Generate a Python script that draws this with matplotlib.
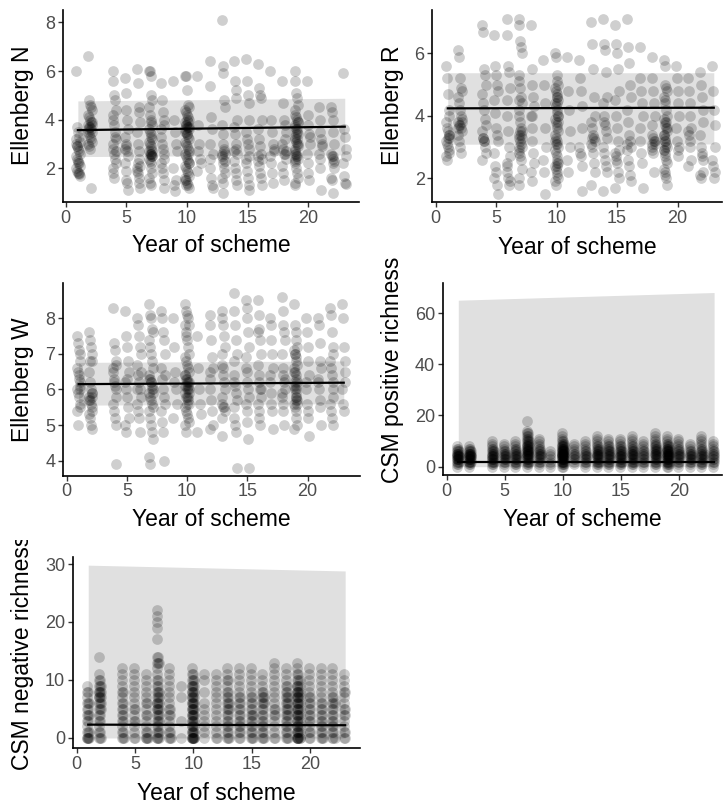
import matplotlib
matplotlib.use("Agg")
import matplotlib.pyplot as plt
from matplotlib.transforms import Bbox
import numpy as np

plt.rcParams["font.family"] = ["Liberation Sans", "DejaVu Sans"]

# survey years present in the scheme (no plots in year 3)
years = [1, 2, 4, 5, 6, 7, 8, 9, 10, 11, 12, 13, 14, 15, 16, 17, 18, 19, 20, 21, 22, 23]

# plot-level Ellenberg N means, one list per year
ell_n = [
    [6.0, 3.7, 3.5, 3.3, 3.1, 3.0, 2.9, 2.8, 2.7, 2.6, 2.5, 2.4, 2.3, 2.2, 2.1, 2.0, 1.9, 1.8, 1.75, 1.7, 3.2, 2.9, 2.2, 1.8],
    [6.6, 4.8, 4.6, 4.5, 4.4, 4.2, 4.1, 4.0, 3.9, 3.8, 3.8, 3.7, 3.7, 3.6, 3.5, 3.5, 3.4, 3.3, 3.2, 3.1, 3.0, 2.9, 2.8, 1.2, 3.9, 3.6],
    [6.0, 5.6, 5.0, 4.8, 4.4, 4.2, 4.0, 3.8, 3.5, 3.2, 3.0, 2.8, 2.6, 2.4, 2.2, 2.0, 1.8, 1.6, 3.3, 2.7],
    [5.7, 5.1, 4.4, 4.0, 3.6, 3.3, 3.0, 2.9, 2.7, 2.5, 2.2, 1.9, 1.5, 1.4, 1.1, 2.8],
    [6.1, 5.5, 4.5, 4.3, 3.9, 3.5, 3.0, 2.7, 2.4, 2.1, 2.0, 1.8, 1.6, 1.4, 1.2, 1.9, 2.2],
    [6.0, 6.0, 5.8, 5.0, 4.8, 4.5, 4.2, 4.0, 3.9, 3.8, 3.6, 3.5, 3.4, 3.3, 3.2, 3.1, 3.0, 2.9, 2.8, 2.7, 2.7, 2.6, 2.6, 2.5, 2.5, 2.4, 2.3, 2.2, 2.0, 1.8, 1.6, 1.4, 1.3, 2.6, 2.5],
    [5.5, 4.8, 4.3, 4.0, 3.8, 3.6, 3.0, 2.8, 2.6, 2.4, 2.2, 2.0, 1.8, 1.5, 1.2, 3.3],
    [5.6, 4.0, 3.5, 3.0, 2.7, 2.0, 1.3, 1.05, 1.5],
    [5.8, 5.8, 5.2, 4.6, 4.5, 4.4, 4.3, 4.2, 4.1, 4.0, 3.9, 3.8, 3.7, 3.7, 3.6, 3.5, 3.5, 3.4, 3.3, 3.2, 3.1, 3.0, 2.9, 2.8, 2.7, 2.6, 2.5, 2.4, 2.3, 2.2, 2.1, 2.0, 1.9, 1.8, 1.7, 1.6, 1.5, 1.4, 1.3, 1.2, 3.6, 3.8, 3.4, 2.6, 2.2, 1.5, 1.3, 4.0, 3.9, 3.7],
    [5.8, 3.8, 3.0, 2.4, 2.2, 1.9, 2.7],
    [6.4, 5.4, 4.1, 3.6, 2.6, 2.4, 2.0, 1.6, 1.3, 1.2, 3.0],
    [8.1, 6.2, 5.9, 4.8, 4.5, 3.8, 3.4, 3.0, 2.8, 2.6, 2.5, 2.4, 2.2, 2.0, 1.8, 1.6, 1.4, 1.0, 2.7, 2.3, 2.6],
    [6.4, 5.6, 5.2, 4.9, 4.0, 3.7, 3.4, 3.0, 2.8, 2.6, 2.3, 2.0, 1.8, 1.5, 1.3, 2.7],
    [6.5, 5.6, 5.0, 4.7, 4.0, 3.5, 3.2, 3.0, 2.8, 2.5, 2.2, 1.9, 1.6, 1.1, 1.3, 2.4],
    [6.3, 5.3, 5.0, 4.9, 4.0, 3.6, 3.2, 2.9, 2.6, 2.4, 2.3, 2.1, 1.8, 1.6, 1.3, 2.5],
    [6.0, 4.0, 3.5, 3.0, 2.7, 2.5, 2.2, 1.8, 1.4, 2.8],
    [5.6, 4.7, 4.0, 3.8, 3.5, 3.0, 2.8, 2.6, 2.6, 2.4, 2.1, 1.8, 1.5, 3.2, 2.7],
    [6.0, 5.6, 5.1, 4.9, 4.6, 4.4, 4.2, 4.1, 4.0, 3.9, 3.8, 3.7, 3.6, 3.5, 3.4, 3.3, 3.2, 3.1, 3.0, 2.9, 2.8, 2.7, 2.6, 2.5, 2.4, 2.3, 2.2, 2.0, 1.8, 1.6, 1.4, 1.3, 3.4, 3.2, 3.0, 2.6, 2.4, 2.5, 3.6, 3.9],
    [5.6, 4.2, 3.8, 3.4, 3.0, 2.6, 2.2, 1.8, 1.5, 3.3],
    [4.5, 4.0, 3.5, 3.2, 2.9, 2.6, 2.4, 2.0, 1.1, 3.0],
    [4.5, 4.3, 4.0, 3.5, 3.0, 2.6, 2.5, 2.4, 2.2, 2.0, 1.6, 1.5, 1.0, 2.5, 2.3],
    [5.9, 3.6, 3.3, 2.8, 2.5, 2.2, 1.7, 1.4, 1.35],
]

# plot-level Ellenberg R means
ell_r = [
    [5.6, 5.2, 4.7, 4.2, 4.0, 3.8, 3.6, 3.5, 3.4, 3.3, 3.2, 3.1, 3.0, 2.9, 2.8, 2.7, 2.6, 3.3, 3.4],
    [6.1, 5.9, 5.2, 4.9, 4.8, 4.6, 4.4, 4.2, 4.0, 3.9, 3.8, 3.7, 3.7, 3.6, 3.5, 3.4, 3.2, 3.0, 2.8, 3.8, 3.6],
    [6.9, 6.7, 5.5, 5.3, 5.0, 4.7, 4.4, 4.2, 3.9, 3.7, 3.5, 3.3, 3.2, 3.0, 2.8, 2.6, 3.3, 3.2],
    [6.6, 5.6, 5.3, 5.0, 4.8, 4.5, 4.1, 3.6, 3.4, 3.2, 2.8, 2.4, 2.2, 1.8, 1.5, 2.0],
    [7.1, 6.6, 5.6, 5.4, 4.9, 4.5, 4.0, 3.5, 3.0, 2.7, 2.4, 2.2, 2.0, 1.8, 1.9, 2.5],
    [7.1, 6.9, 6.4, 6.2, 6.0, 5.3, 5.1, 4.9, 4.6, 4.4, 4.2, 4.0, 3.8, 3.6, 3.5, 3.4, 3.3, 3.2, 3.1, 3.0, 2.9, 2.8, 2.7, 2.6, 2.3, 2.0, 1.8, 3.5, 3.4, 3.3, 4.5, 3.0],
    [6.9, 5.5, 5.0, 4.6, 4.3, 4.0, 3.6, 3.2, 2.8, 2.5, 2.2, 1.9, 4.0],
    [5.8, 5.0, 4.4, 3.6, 3.0, 2.6, 2.2, 1.5],
    [6.0, 5.9, 5.3, 5.1, 5.0, 4.9, 4.8, 4.7, 4.6, 4.5, 4.4, 4.3, 4.2, 4.1, 4.0, 3.9, 3.8, 3.7, 3.6, 3.5, 3.4, 3.3, 3.2, 3.1, 3.0, 2.9, 2.8, 2.7, 2.6, 2.5, 2.4, 2.3, 2.2, 2.1, 2.0, 1.9, 1.8, 4.6, 4.4, 3.8, 3.2, 3.1, 2.5, 2.4, 4.0],
    [5.9, 4.8, 4.2, 3.5, 3.0, 2.6, 2.2],
    [5.8, 5.2, 4.8, 4.3, 3.6, 3.0, 2.8, 2.7, 2.4, 1.6],
    [7.0, 6.3, 5.5, 4.6, 4.0, 3.8, 3.6, 3.4, 3.3, 3.2, 3.1, 3.0, 2.8, 2.5, 2.2, 1.8, 3.3],
    [7.1, 6.3, 6.1, 5.4, 4.6, 4.4, 4.0, 3.7, 3.5, 3.3, 3.0, 2.8, 2.6, 2.4, 2.2, 1.6, 3.8],
    [6.9, 6.3, 6.0, 5.5, 4.8, 4.5, 4.0, 3.6, 3.2, 2.9, 2.8, 2.7, 2.5, 2.2, 2.0, 1.7, 2.6],
    [7.1, 6.2, 5.7, 5.0, 4.6, 4.2, 3.8, 3.4, 3.2, 3.0, 2.9, 2.6, 2.4, 2.1, 1.9, 3.1],
    [6.2, 5.2, 4.8, 4.4, 4.0, 3.6, 3.2, 2.8, 2.5, 1.7],
    [5.9, 5.2, 4.8, 4.4, 4.0, 3.7, 3.4, 3.3, 3.2, 3.1, 3.0, 2.9, 2.8, 2.2, 3.2, 3.1],
    [5.8, 5.6, 5.0, 4.9, 4.8, 4.6, 4.5, 4.4, 4.2, 4.0, 3.9, 3.8, 3.7, 3.6, 3.5, 3.4, 3.3, 3.2, 3.1, 3.0, 2.9, 2.8, 2.7, 2.6, 2.5, 2.3, 2.2, 2.1, 2.0, 1.8, 3.4, 3.2, 3.0, 3.8, 3.6, 2.9],
    [5.6, 5.2, 4.8, 4.4, 4.0, 3.6, 3.2, 2.9, 2.7, 3.0],
    [5.2, 4.8, 4.4, 4.0, 3.6, 3.5, 3.4, 3.2, 3.0, 2.6, 2.4],
    [5.4, 5.0, 4.6, 4.2, 3.8, 3.4, 3.0, 2.8, 2.6, 2.2, 2.1, 2.0, 2.7],
    [5.6, 4.8, 4.2, 3.7, 3.0, 2.6, 2.4, 2.0, 2.2],
]

# plot-level Ellenberg W means
ell_w = [
    [7.5, 7.3, 7.1, 7.0, 6.8, 6.6, 6.5, 6.3, 6.2, 6.1, 6.0, 5.9, 5.8, 5.6, 5.5, 5.4, 5.0, 6.4, 6.0],
    [7.6, 7.4, 7.2, 7.0, 6.8, 6.5, 6.2, 6.0, 5.9, 5.8, 5.8, 5.7, 5.6, 5.5, 5.4, 5.3, 5.2, 5.0, 4.9, 5.9, 5.7, 6.8],
    [8.3, 7.3, 7.1, 6.8, 6.7, 6.5, 6.3, 6.1, 6.0, 5.8, 5.6, 5.4, 5.2, 5.0, 3.9, 6.6, 6.2],
    [8.2, 7.5, 7.2, 6.8, 6.5, 6.2, 6.0, 5.8, 5.5, 5.2, 5.0, 4.8, 6.3],
    [8.0, 7.8, 7.5, 7.2, 7.0, 6.7, 6.4, 6.2, 6.0, 5.8, 5.6, 5.4, 5.2, 4.8, 6.5, 6.0],
    [8.4, 8.1, 8.0, 7.7, 7.6, 7.4, 7.2, 7.0, 6.8, 6.6, 6.4, 6.3, 6.2, 6.1, 6.0, 5.9, 5.8, 5.7, 5.6, 5.5, 5.4, 5.2, 5.0, 4.8, 4.6, 4.1, 3.9, 6.2, 6.0, 5.9, 6.3],
    [8.2, 8.0, 7.6, 7.4, 7.0, 6.6, 6.3, 6.0, 5.8, 5.6, 5.4, 5.1, 4.8, 4.0, 6.4],
    [8.0, 7.2, 6.5, 6.0, 5.6, 5.2, 6.2],
    [8.4, 8.2, 8.1, 8.0, 7.8, 7.8, 7.6, 7.4, 7.2, 7.0, 6.9, 6.8, 6.7, 6.6, 6.5, 6.4, 6.3, 6.3, 6.2, 6.2, 6.1, 6.1, 6.0, 6.0, 5.9, 5.9, 5.8, 5.8, 5.7, 5.6, 5.5, 5.4, 5.3, 5.2, 5.1, 5.0, 4.8, 6.2, 6.1, 6.0, 6.4, 7.5, 5.6, 5.8],
    [7.5, 6.6, 6.0, 5.6, 5.3, 4.8],
    [8.1, 7.8, 7.4, 6.9, 6.6, 6.3, 6.0, 5.7, 5.4, 5.0, 4.9, 6.5],
    [8.2, 8.0, 7.8, 7.5, 7.2, 7.0, 6.7, 6.4, 6.2, 6.0, 5.8, 5.6, 5.5, 5.5, 5.4, 5.2, 4.7, 6.6],
    [8.7, 8.2, 7.8, 7.4, 7.0, 6.8, 6.4, 6.1, 5.9, 5.7, 5.5, 5.2, 5.0, 4.8, 3.8, 6.2],
    [8.5, 8.3, 8.0, 7.6, 7.2, 6.9, 6.5, 6.2, 6.0, 5.8, 5.6, 5.4, 5.1, 4.6, 3.8, 6.6],
    [8.5, 8.1, 7.7, 7.4, 7.0, 6.7, 6.4, 6.2, 6.0, 5.8, 5.6, 5.4, 5.2, 5.0, 6.0, 7.6],
    [8.0, 7.8, 7.4, 7.0, 6.6, 6.2, 5.9, 5.6, 5.4, 4.9, 6.4],
    [8.6, 8.2, 7.8, 7.6, 7.4, 7.0, 6.6, 6.4, 6.2, 6.0, 5.8, 5.6, 5.4, 5.0, 6.3, 5.9],
    [8.4, 7.8, 7.6, 7.4, 7.2, 7.1, 7.0, 6.9, 6.8, 6.7, 6.6, 6.5, 6.4, 6.3, 6.2, 6.1, 6.0, 5.9, 5.8, 5.7, 5.6, 5.5, 5.4, 5.2, 5.0, 4.9, 6.2, 6.0, 5.8, 5.6, 6.5, 7.0, 5.7, 6.1],
    [8.0, 7.6, 7.2, 6.8, 6.4, 6.0, 5.6, 5.4, 5.2, 4.7, 6.2],
    [8.0, 7.8, 7.3, 6.8, 6.6, 6.3, 6.0, 5.7, 5.5, 5.0, 6.2],
    [8.3, 8.1, 7.6, 7.2, 7.0, 6.8, 6.6, 6.4, 6.0, 5.8, 5.6, 5.4, 5.2, 5.0, 6.2],
    [8.4, 8.0, 7.2, 6.8, 6.5, 6.0, 5.6, 5.4, 6.2],
]

# number of plots with richness 0, 1, 2, ... per year (CSM positive species)
csm_pos_counts = [
    [1, 2, 3, 5, 6, 4, 3, 2, 1],
    [1, 2, 4, 5, 6, 5, 3, 2, 1],
    [1, 2, 3, 4, 4, 3, 3, 2, 1, 1, 1],
    [1, 1, 2, 3, 3, 3, 2, 1, 1, 1],
    [1, 2, 2, 3, 3, 3, 2, 2, 1, 1, 1],
    [1, 2, 3, 4, 4, 5, 5, 4, 4, 3, 3, 2, 2, 2, 1, 0, 0, 0, 1],
    [1, 1, 2, 2, 3, 3, 2, 2, 1, 1, 1, 1],
    [1, 1, 1, 1, 1, 1, 1],
    [2, 3, 5, 6, 7, 7, 6, 5, 4, 3, 2, 1, 1, 1],
    [0, 1, 1, 2, 2, 2, 1, 1, 1, 1],
    [1, 1, 2, 2, 3, 2, 2, 1, 1, 1, 1],
    [1, 2, 3, 3, 4, 4, 3, 3, 2, 1, 1, 1, 1],
    [1, 2, 2, 3, 3, 3, 3, 2, 2, 1, 1, 1],
    [1, 2, 3, 3, 4, 3, 3, 2, 2, 1, 1, 1],
    [1, 2, 3, 3, 3, 4, 3, 2, 2, 1, 1, 1, 1],
    [1, 1, 2, 2, 2, 2, 2, 1, 1, 1, 1],
    [1, 2, 2, 3, 3, 4, 3, 3, 2, 2, 1, 1, 1, 1],
    [2, 3, 4, 5, 6, 6, 5, 4, 3, 2, 1, 1, 1],
    [1, 1, 2, 2, 3, 3, 2, 2, 1, 1, 1, 1],
    [1, 1, 2, 3, 3, 3, 2, 1, 1, 1],
    [1, 2, 2, 3, 3, 3, 2, 2, 1, 1, 1, 1, 1],
    [1, 1, 2, 2, 2, 2, 2, 1, 1, 1, 1],
]

# number of plots with richness 0, 1, 2, ... per year (CSM negative species)
csm_neg_counts = [
    [5, 3, 1, 2, 3, 2, 3, 1, 2, 1],
    [3, 2, 1, 2, 2, 3, 3, 4, 4, 3, 2, 1, 0, 0, 1],
    [3, 2, 1, 2, 2, 2, 2, 1, 2, 1, 1, 1, 1],
    [2, 1, 1, 2, 1, 2, 1, 1, 1, 1, 1, 1, 1],
    [4, 2, 1, 1, 2, 1, 2, 1, 1, 1, 1, 1],
    [4, 3, 2, 3, 3, 4, 4, 3, 3, 2, 2, 1, 1, 3, 2, 0, 0, 1, 0, 1, 1, 1, 1],
    [3, 2, 1, 1, 2, 2, 1, 1, 1, 1, 1, 1, 1],
    [1, 0, 0, 1, 0, 0, 0, 1, 0, 1],
    [8, 5, 4, 4, 5, 5, 5, 4, 4, 4, 3, 2, 1],
    [1, 1, 1, 1, 1, 1, 1, 0, 1, 0, 1, 1],
    [2, 1, 1, 1, 1, 1, 1, 1, 1, 1, 1, 1],
    [3, 2, 2, 2, 2, 3, 3, 2, 2, 1, 2, 1, 1],
    [2, 2, 2, 2, 2, 2, 2, 2, 1, 1, 1, 1, 1],
    [3, 2, 2, 2, 3, 2, 2, 2, 1, 1, 1, 1, 1],
    [3, 2, 2, 2, 2, 2, 3, 3, 2, 1, 1, 1],
    [2, 1, 1, 1, 2, 2, 1, 1, 1, 1, 1, 1, 1, 1],
    [3, 2, 2, 2, 3, 3, 3, 3, 2, 2, 1, 1, 1],
    [8, 5, 4, 4, 5, 5, 5, 5, 5, 4, 3, 2, 1, 1],
    [2, 2, 1, 2, 2, 2, 2, 2, 1, 1, 1, 1, 1],
    [3, 2, 2, 2, 2, 2, 2, 1, 1, 1, 1, 1, 1],
    [3, 2, 2, 2, 2, 2, 3, 2, 1, 1, 1, 1, 1],
    [2, 2, 1, 1, 2, 2, 1, 1, 2, 1, 1, 1],
]

# fitted trend and prediction band at year 1 and year 23
fit_years = [1, 23]
fit_n, lo_n, hi_n = [3.57, 3.71], [2.48, 2.55], [4.77, 4.88]
fit_r, lo_r, hi_r = [4.24, 4.26], [3.09, 3.10], [5.38, 5.38]
fit_w, lo_w, hi_w = [6.15, 6.19], [5.56, 5.60], [6.76, 6.80]
fit_pos, lo_pos, hi_pos = [1.7, 1.7], [0.0, 0.0], [65.0, 68.0]
fit_neg, lo_neg, hi_neg = [2.3, 2.2], [0.0, 0.0], [29.8, 28.8]


def from_values(per_year):
    xs, ys = [], []
    for yr, vals in zip(years, per_year):
        k = np.arange(len(vals))
        xs.extend(yr + ((k % 5) - 2) * 0.07)
        ys.extend(vals)
    return np.array(xs), np.array(ys)


def from_counts(per_year):
    xs, ys = [], []
    for yr, counts in zip(years, per_year):
        for level, c in enumerate(counts):
            for j in range(c):
                xs.append(yr + ((j % 3) - 1) * 0.09)
                ys.append(level)
    return np.array(xs), np.array(ys)


W, H = 723.0, 807.0
fig = plt.figure(figsize=(W / 100, H / 100), dpi=100)
TITLE = 16.5


def panel(box, xlim, ylim, yticks, ylabel, pts, fit, lo, hi, ylab_xy, xlab_y, clip_top):
    left, right, top, bottom = box
    ax = fig.add_axes([left / W, 1 - bottom / H, (right - left) / W, (bottom - top) / H])
    ax.fill_between(fit_years, lo, hi, color="#e0e0e0", lw=0, zorder=1)
    ax.scatter(pts[0], pts[1], s=60, color="black", alpha=0.19, lw=0, zorder=2)
    ax.plot(fit_years, fit, color="black", lw=1.6, zorder=3)
    ax.set_xlim(*xlim)
    ax.set_ylim(*ylim)
    ax.set_xticks([0, 5, 10, 15, 20])
    ax.set_yticks(yticks)
    for s in ["top", "right"]:
        ax.spines[s].set_visible(False)
    for s in ["left", "bottom"]:
        ax.spines[s].set_linewidth(1.2)
    ax.tick_params(length=3.5, width=1.0, color="#333333", labelcolor="#4d4d4d",
                   labelsize=13, pad=2)
    # axis titles placed in figure pixels; long y titles are cut at the cell edge
    fig.text((left + right) / 2 / W, 1 - xlab_y / H, "Year of scheme",
             fontsize=TITLE, ha="center", va="center")
    yl = fig.text(ylab_xy[0] / W, 1 - ylab_xy[1] / H, ylabel, fontsize=TITLE,
                  rotation=90, ha="center", va="bottom")
    clip = Bbox.from_extents(0, 0, W, H - clip_top)
    yl.set_clip_box(clip)
    yl.set_clip_on(True)
    return ax


panel((62.7, 359.3, 10, 202.3), (-0.25, 24.2), (0.60, 8.51), [2, 4, 6, 8],
      "Ellenberg N", from_values(ell_n), fit_n, lo_n, hi_n, (22.5, 165), 246, 0)
panel((432.3, 722, 10, 202.3), (-0.28, 23.68), (1.23, 7.39), [2, 4, 6],
      "Ellenberg R", from_values(ell_r), fit_r, lo_r, hi_r, (393, 165), 247, 0)
panel((63, 360, 283.3, 475.7), (-0.3, 24.35), (3.58, 8.98), [4, 5, 6, 7, 8],
      "Ellenberg W", from_values(ell_w), fit_w, lo_w, hi_w, (22.5, 441.7), 520, 262)
panel((442.7, 722, 283.3, 475), (-0.34, 23.68), (-3.24, 71.6), [0, 20, 40, 60],
      "CSM positive richness", from_counts(csm_pos_counts), fit_pos, lo_pos, hi_pos,
      (392, 483), 520, 258)
panel((72.7, 360, 556.7, 748.3), (-0.33, 24.27), (-1.78, 31.26), [0, 10, 20, 30],
      "CSM negative richness", from_counts(csm_neg_counts), fit_neg, lo_neg, hi_neg,
      (23, 770), 794, 540)

fig.savefig("out.png", dpi=100)
